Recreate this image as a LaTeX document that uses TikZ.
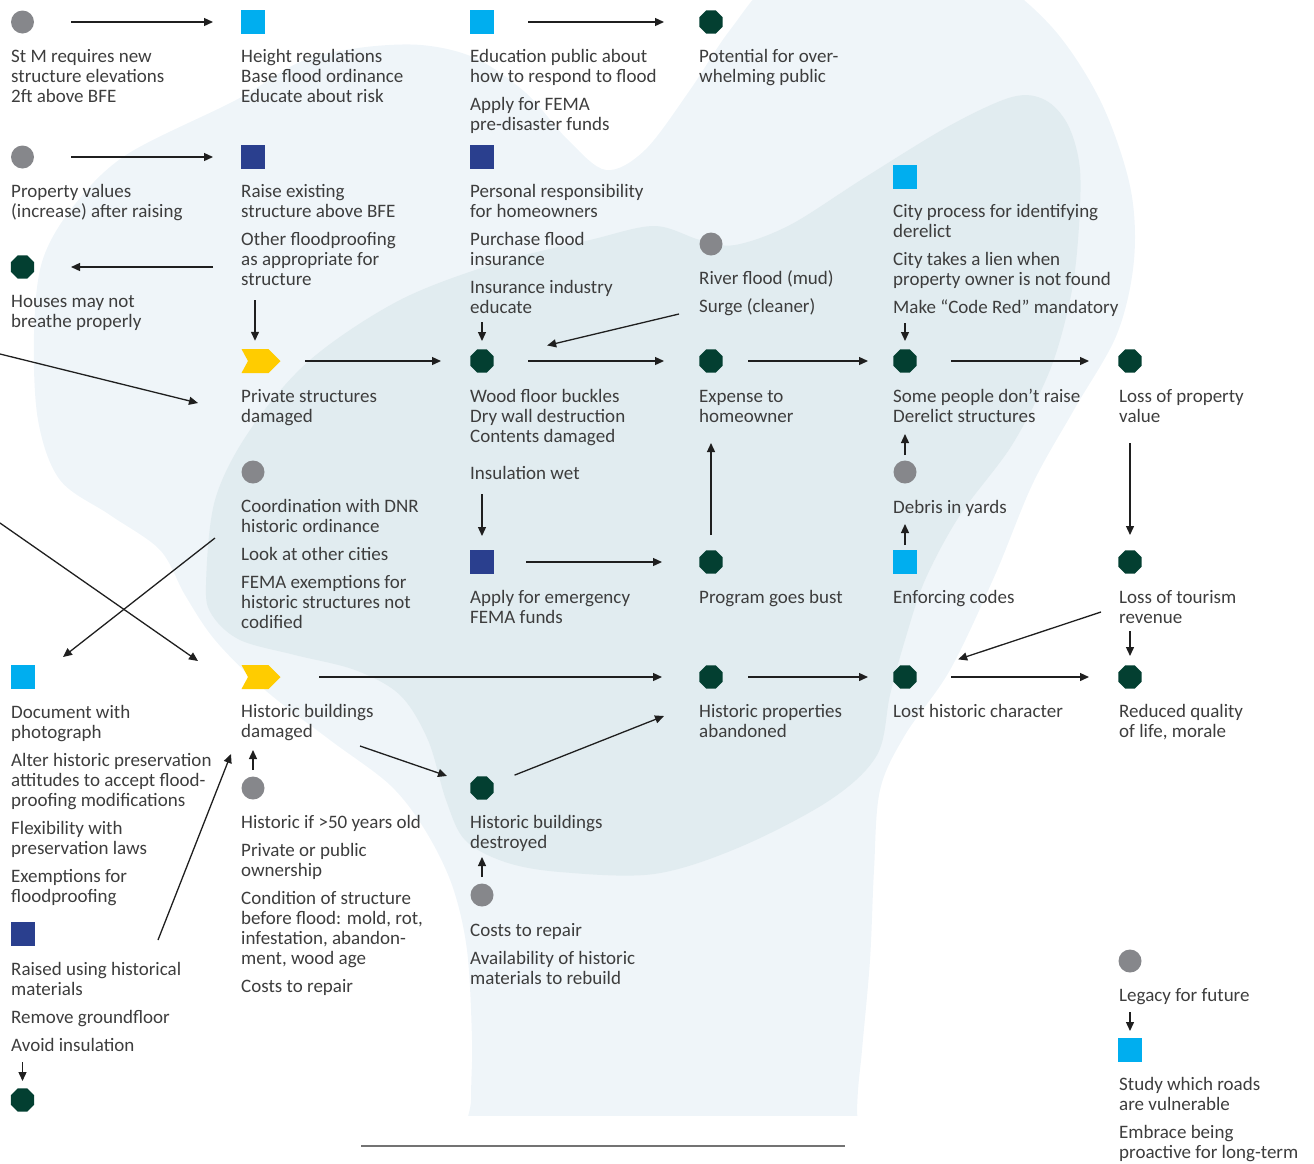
\documentclass[tikz,border=0pt]{standalone}
\usepackage{fontspec}
\setmainfont{Carlito}
\usetikzlibrary{shapes.geometric,arrows.meta,calc}
\definecolor{txt}{HTML}{3D3D3D}
\definecolor{cgray}{HTML}{86878B}
\definecolor{ccyan}{HTML}{00AEEF}
\definecolor{cnavy}{HTML}{2A3F8E}
\definecolor{cgreen}{HTML}{033F31}
\definecolor{cyellow}{HTML}{FFCC00}
\definecolor{blobA}{HTML}{EFF5F9}
\definecolor{blobB}{HTML}{E1ECF0}
\newcommand{\fl}{\rule{0pt}{14pt}}
\begin{document}
\begin{tikzpicture}[x=1pt,y=-1pt,
  lbl/.style={anchor=north west,inner sep=0pt,align=left,text=txt,font=\fontsize{19}{20}\selectfont},
  gcirc/.style={circle,fill=cgray,minimum size=23pt,inner sep=0pt},
  sqbox/.style={rectangle,minimum size=24pt,inner sep=0pt},
  cyansq/.style={sqbox,fill=ccyan},
  navysq/.style={sqbox,fill=cnavy},
  oct/.style={regular polygon,regular polygon sides=8,minimum size=25pt,inner sep=0pt,fill=cgreen},
  chev/.style={rectangle,minimum width=39pt,minimum height=24pt,inner sep=0pt,
    path picture={\fill[cyellow] (path picture bounding box.north west)
      -- ($(path picture bounding box.north east)+(-12pt,0pt)$)
      -- (path picture bounding box.east)
      -- ($(path picture bounding box.south east)+(-12pt,0pt)$)
      -- (path picture bounding box.south west)
      -- ($(path picture bounding box.west)+(6.5pt,0pt)$) -- cycle;}},
  arr/.style={draw=black!88,line width=1.3pt,-{Triangle[length=9pt,width=8pt]}},
  ]
\useasboundingbox (0,0) rectangle (1314,1163);
% background blobs
\begin{scope}
\clip (0,0) rectangle (1314,1115);
\fill[blobA] plot[smooth cycle,tension=0.55] coordinates {
 (236,100) (300,62) (358,48) (421,45) (475,58) (526,93) (568,140) (606,170)
 (645,150) (690,90) (730,30) (780,-25) (880,-60) (980,-30) (1050,25) (1100,100)
 (1130,186) (1134,260) (1117,334) (1075,408) (1033,483) (995,575) (950,670)
 (905,735) (880,790) (874,870) (870,960) (862,1050) (857,1110) (855,1250)
 (470,1250) (471,1100) (472,1040) (467,950) (452,885) (425,830) (390,785)
 (330,740) (265,690) (215,640) (185,595) (160,550) (110,515) (60,480)
 (38,420) (34,334) (42,262) (72,208) (126,155)};
\fill[blobB] plot[smooth cycle,tension=0.55] coordinates {
 (206,585) (215,500) (250,430) (310,360) (400,300) (500,262) (590,240) (654,226)
 (700,240) (735,245) (790,225) (864,178) (949,126) (1012,97) (1045,100)
 (1068,125) (1080,170) (1078,240) (1070,300) (1050,370) (1012,445) (960,515)
 (925,580) (905,640) (890,695) (877,755) (830,800) (740,847) (654,874)
 (560,872) (505,862) (465,840) (446,800) (428,740) (400,695) (355,670)
 (295,655) (240,640) (212,615)};
\end{scope}
\draw[draw=black!55,line width=2pt] (361,1146) -- (845,1146);

% icons
\node[gcirc]  (I1)  at (22.5,22) {};
\node[cyansq] (I2)  at (253,22) {};
\node[cyansq] (I3)  at (482,22) {};
\node[oct]    (I4)  at (711,22) {};
\node[gcirc]  (I5)  at (22.5,157) {};
\node[navysq] (I6)  at (253,157) {};
\node[navysq] (I7)  at (482,157) {};
\node[cyansq] (I8)  at (905,177) {};
\node[gcirc]  (I9)  at (711,244) {};
\node[oct]    (I10) at (22.5,267) {};
\node[chev]   (I11) at (261,361) {};
\node[oct]    (I12) at (482,361) {};
\node[oct]    (I13) at (711,361) {};
\node[oct]    (I14) at (905,361) {};
\node[oct]    (I15) at (1130,361) {};
\node[gcirc]  (I16) at (253,472) {};
\node[gcirc]  (I17) at (905,472) {};
\node[navysq] (I18) at (482,562) {};
\node[oct]    (I19) at (711,562) {};
\node[cyansq] (I20) at (905,562) {};
\node[oct]    (I21) at (1130,562) {};
\node[cyansq] (I22) at (22.5,677) {};
\node[chev]   (I23) at (261,677) {};
\node[oct]    (I24) at (711,677) {};
\node[oct]    (I25) at (905,677) {};
\node[oct]    (I26) at (1130,677) {};
\node[gcirc]  (I27) at (253,788) {};
\node[oct]    (I28) at (482,788) {};
\node[gcirc]  (I29) at (482,895) {};
\node[navysq] (I30) at (22.5,934) {};
\node[oct]    (I31) at (22.5,1100) {};
\node[gcirc]  (I32) at (1130,961) {};
\node[cyansq] (I33) at (1130,1050) {};

% texts
\node[lbl] (T1)  at (11,48)   {\fl St M requires new\\structure elevations\\2ft above BFE};
\node[lbl] (T2)  at (241,48)  {\fl Height regulations\\Base flood ordinance\\Educate about risk};
\node[lbl] (T3)  at (470,48)  {\fl Education public about\\how to respond to flood\\[8pt]Apply for FEMA\\pre-disaster funds};
\node[lbl] (T4)  at (699,48)  {\fl Potential for over-\\whelming public};
\node[lbl] (T5)  at (11,183)  {\fl Property values\\(increase) after raising};
\node[lbl] (T6)  at (241,183) {\fl Raise existing\\structure above BFE\\[8pt]Other floodproofing\\as appropriate for\\structure};
\node[lbl] (T7)  at (470,183) {\fl Personal responsibility\\for homeowners\\[8pt]Purchase flood\\insurance\\[8pt]Insurance industry\\educate};
\node[lbl] (T8)  at (893,203) {\fl City process for identifying\\derelict\\[8pt]City takes a lien when\\property owner is not found\\[8pt]Make “Code Red” mandatory};
\node[lbl] (T9)  at (699,270) {\fl River flood (mud)\\[8pt]Surge (cleaner)};
\node[lbl] (T10) at (11,293)  {\fl Houses may not\\breathe properly};
\node[lbl] (T11) at (241,388) {\fl Private structures\\damaged};
\node[lbl] (T12) at (470,388) {\fl Wood floor buckles\\Dry wall destruction\\Contents damaged\\[17pt]Insulation wet};
\node[lbl] (T13) at (699,388) {\fl Expense to\\homeowner};
\node[lbl] (T14) at (893,388) {\fl Some people don’t raise\\Derelict structures};
\node[lbl] (T15) at (1119,388) {\fl Loss of property\\value};
\node[lbl] (T16) at (241,498) {\fl Coordination with DNR\\historic ordinance\\[8pt]Look at other cities\\[8pt]FEMA exemptions for\\historic structures not\\codified};
\node[lbl] (T17) at (893,499) {\fl Debris in yards};
\node[lbl] (T18) at (470,589) {\fl Apply for emergency\\FEMA funds};
\node[lbl] (T19) at (699,589) {\fl Program goes bust};
\node[lbl] (T20) at (893,589) {\fl Enforcing codes};
\node[lbl] (T21) at (1119,589) {\fl Loss of tourism\\revenue};
\node[lbl] (T22) at (11,704)  {\fl Document with\\photograph\\[8pt]Alter historic preservation\\attitudes to accept flood-\\proofing modifications\\[8pt]Flexibility with\\preservation laws\\[8pt]Exemptions for\\floodproofing};
\node[lbl] (T23) at (241,703) {\fl Historic buildings\\damaged};
\node[lbl] (T24) at (699,703) {\fl Historic properties\\abandoned};
\node[lbl] (T25) at (893,703) {\fl Lost historic character};
\node[lbl] (T26) at (1119,703) {\fl Reduced quality\\of life, morale};
\node[lbl] (T27) at (470,814) {\fl Historic buildings\\destroyed};
\node[lbl] (T28) at (241,814) {\fl Historic if >50 years old\\[8pt]Private or public\\ownership\\[8pt]Condition of structure\\before flood: mold, rot,\\infestation, abandon-\\ment, wood age\\[8pt]Costs to repair};
\node[lbl] (T29) at (470,922) {\fl Costs to repair\\[8pt]Availability of historic\\materials to rebuild};
\node[lbl] (T30) at (11,961)  {\fl Raised using historical\\materials\\[8pt]Remove groundfloor\\[8pt]Avoid insulation};
\node[lbl] (T31) at (1119,987) {\fl Legacy for future};
\node[lbl] (T32) at (1119,1076) {\fl Study which roads\\are vulnerable\\[8pt]Embrace being\\proactive for long-term};

% free connector ends
\coordinate (f4)  at (213,267);
\coordinate (f5)  at (255,300);
\coordinate (f7)  at (482,322);
\coordinate (f8)  at (679,314);
\coordinate (f11) at (905,323);
\coordinate (f13s) at (0,354);
\coordinate (f13e) at (198,403);
\coordinate (f14) at (905,434);
\coordinate (f15) at (905,524);
\coordinate (f16) at (482,494);
\coordinate (f18) at (711,443);
\coordinate (f19) at (1130,443);
\coordinate (f20s) at (0,523);
\coordinate (f20e) at (198,661);
\coordinate (f21s) at (215,538);
\coordinate (f21e) at (63,657);
\coordinate (f25) at (1101,612);
\coordinate (f26) at (1130,631);
\coordinate (f27) at (360,746);
\coordinate (f28) at (664,716);
\coordinate (f29) at (253,750);
\coordinate (f30) at (482,857);
\coordinate (f31s) at (158,940);
\coordinate (f31e) at (231,754);
\coordinate (f32) at (22.5,1062);
\coordinate (f33) at (1130,1012);

% connectors
\draw[arr,shorten <=48.5pt,shorten >=40pt] (I1.center) -- (I2.center);
\draw[arr,shorten <=46pt,shorten >=47pt] (I3.center) -- (I4.center);
\draw[arr,shorten <=48.5pt,shorten >=40pt] (I5.center) -- (I6.center);
\draw[arr,shorten >=48.5pt] (f4) -- (I10.center);
\draw[arr,shorten >=8pt] (f5) -- (f5 |- I11.north);
\draw[arr,shorten <=44pt,shorten >=41pt] (I11.center) -- (I12.center);
\draw[arr,shorten >=20pt] (f7) -- (I12.center);
\draw[arr,shorten >=67pt] (f8) -- (I12.center);
\draw[arr,shorten <=46pt,shorten >=47pt] (I12.center) -- (I13.center);
\draw[arr,shorten <=37pt,shorten >=37pt] (I13.center) -- (I14.center);
\draw[arr,shorten >=20pt] (f11) -- (I14.center);
\draw[arr,shorten <=46pt,shorten >=41pt] (I14.center) -- (I15.center);
\draw[arr] (f13s) -- (f13e);
\draw[arr,shorten <=17pt] (I17.center) -- (f14);
\draw[arr,shorten <=17pt] (I20.center) -- (f15);
\draw[arr,shorten >=26pt] (f16) -- (I18.center);
\draw[arr,shorten <=44pt,shorten >=49pt] (I18.center) -- (I19.center);
\draw[arr,shorten <=27pt] (I19.center) -- (f18);
\draw[arr,shorten >=27pt] (f19) -- (I21.center);
\draw[arr] (f20s) -- (f20e);
\draw[arr] (f21s) -- (f21e);
\draw[arr,shorten <=58pt,shorten >=49pt] (I23.center) -- (I24.center);
\draw[arr,shorten <=37pt,shorten >=37pt] (I24.center) -- (I25.center);
\draw[arr,shorten <=46pt,shorten >=41pt] (I25.center) -- (I26.center);
\draw[arr,shorten >=56pt] (f25) -- (I25.center);
\draw[arr,shorten >=21pt] (f26) -- (I26.center);
\draw[arr,shorten >=37pt] (f27) -- (I28.center);
\draw[arr,shorten <=35pt] (I28.center) -- (f28);
\draw[arr,shorten <=18pt] (I27.center) -- (f29);
\draw[arr,shorten <=18pt] (I29.center) -- (f30);
\draw[arr] (f31s) -- (f31e);
\draw[arr,shorten >=19pt] (f32) -- (I31.center);
\draw[arr,shorten >=19pt] (f33) -- (I33.center);
\end{tikzpicture}
\end{document}
